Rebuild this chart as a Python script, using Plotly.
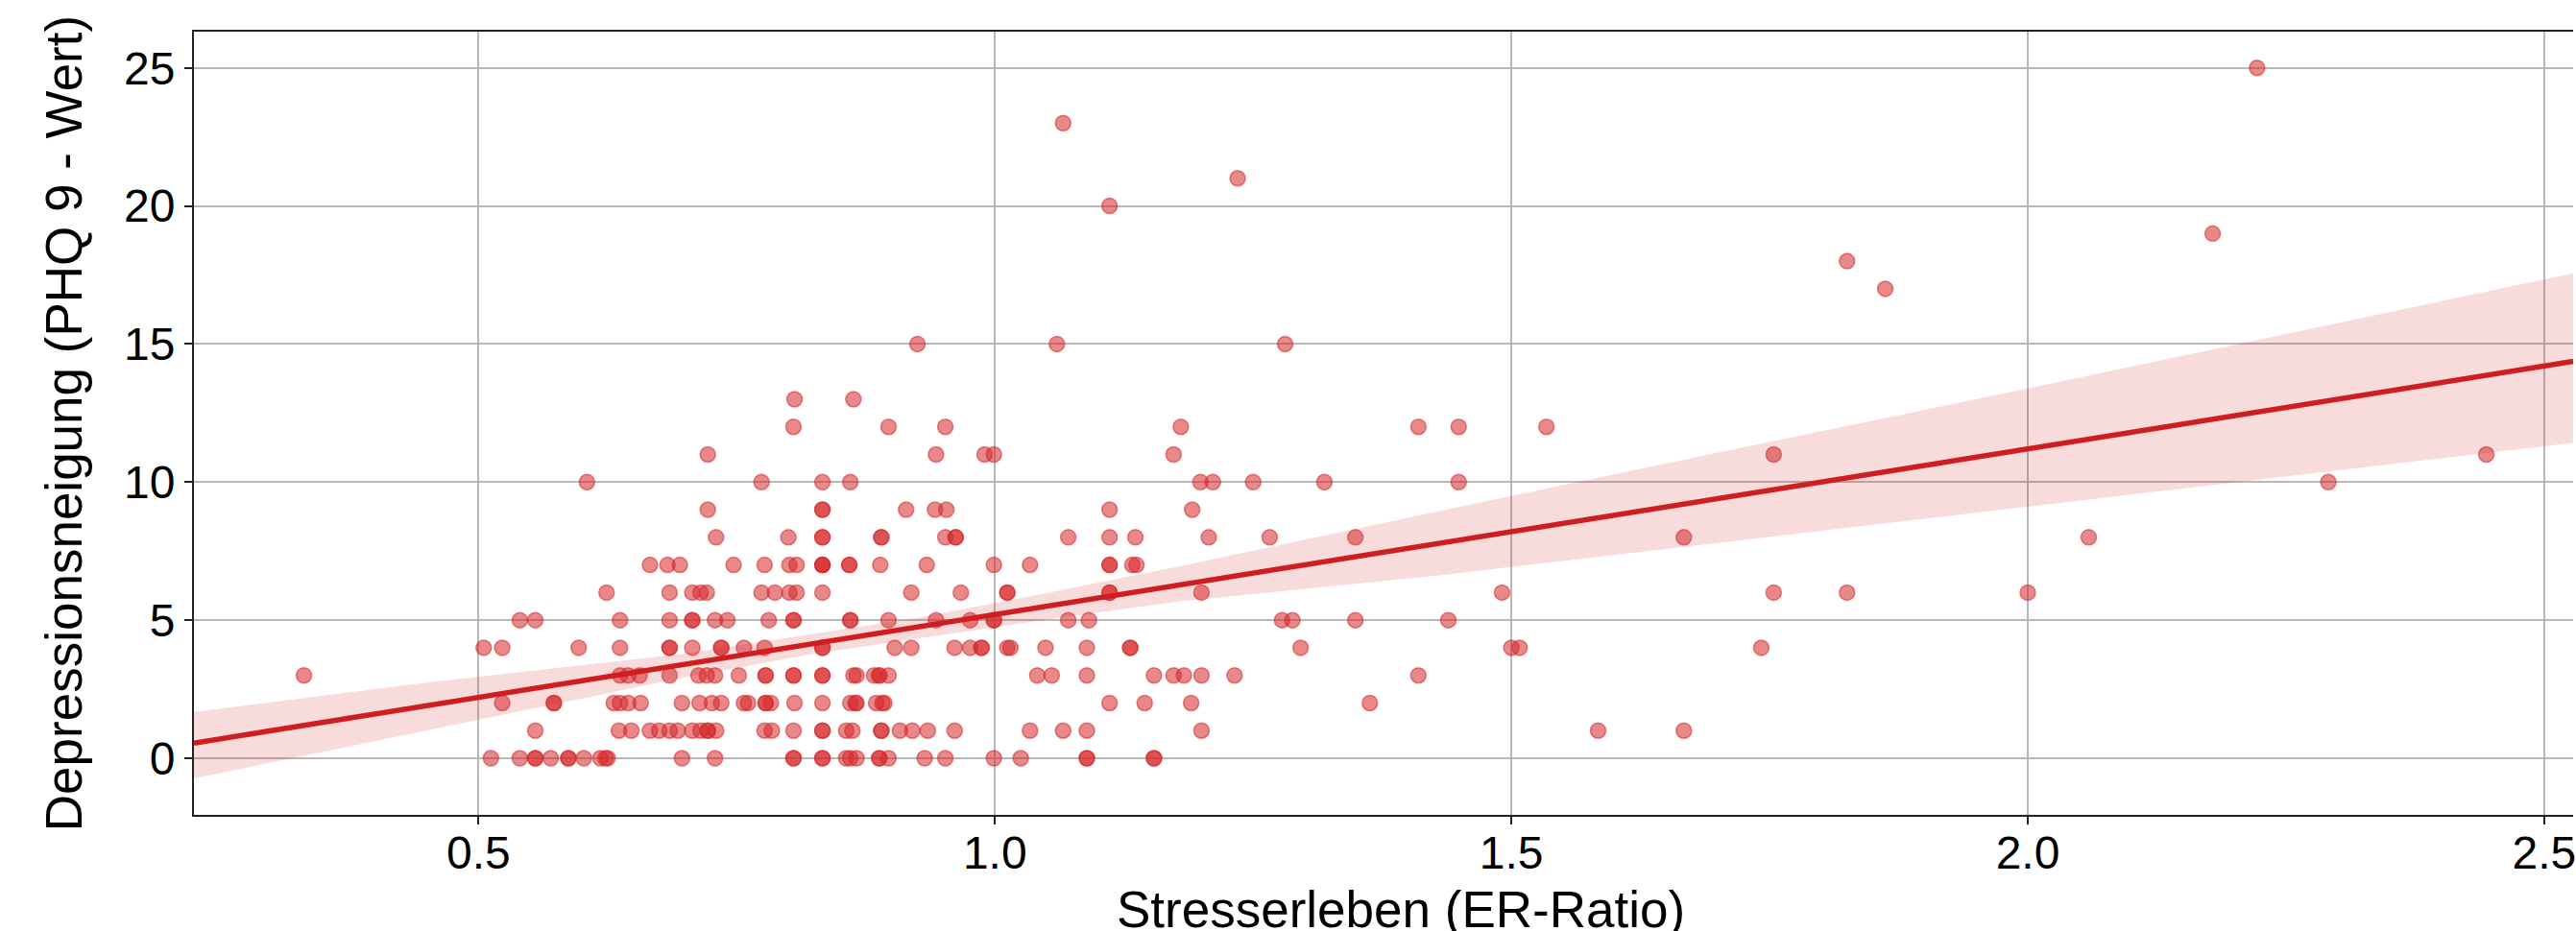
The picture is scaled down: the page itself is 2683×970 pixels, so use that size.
import plotly.graph_objects as go

# ER-Ratio values of the participants, grouped by their PHQ-9 score
er_phq0 = [0.512, 0.540, 0.555, 0.555, 0.570, 0.587, 0.587, 0.602, 0.618, 0.623, 0.625,
           0.697, 0.729, 0.805, 0.805, 0.833, 0.833, 0.856, 0.860, 0.866, 0.888, 0.888,
           0.897, 0.932, 0.952, 0.999, 1.025, 1.089, 1.089, 1.154, 1.154]
er_phq1 = [0.555, 0.636, 0.648, 0.666, 0.675, 0.685, 0.693, 0.707, 0.715, 0.722, 0.722,
           0.730, 0.777, 0.784, 0.805, 0.833, 0.833, 0.856, 0.862, 0.890, 0.890, 0.908,
           0.920, 0.935, 0.961, 1.034, 1.066, 1.089, 1.200, 1.584, 1.667]
er_phq2 = [0.523, 0.573, 0.573, 0.631, 0.637, 0.645, 0.657, 0.697, 0.714, 0.726, 0.735,
           0.757, 0.761, 0.778, 0.778, 0.783, 0.806, 0.833, 0.860, 0.865, 0.866, 0.885,
           0.891, 0.893, 1.111, 1.145, 1.190, 1.363]
er_phq3 = [0.331, 0.637, 0.645, 0.656, 0.685, 0.713, 0.721, 0.729, 0.752, 0.778, 0.778,
           0.805, 0.805, 0.833, 0.833, 0.863, 0.866, 0.883, 0.888, 0.888, 0.897, 1.041,
           1.055, 1.089, 1.154, 1.173, 1.183, 1.200, 1.232, 1.410]
er_phq4 = [0.505, 0.523, 0.597, 0.637, 0.685, 0.685, 0.707, 0.735, 0.735, 0.757, 0.777,
           0.833, 0.833, 0.903, 0.919, 0.961, 0.976, 0.987, 0.987, 1.012, 1.015, 1.049,
           1.089, 1.131, 1.131, 1.296, 1.500, 1.508, 1.742]
er_phq5 = [0.540, 0.555, 0.637, 0.685, 0.707, 0.707, 0.729, 0.741, 0.781, 0.805, 0.805,
           0.860, 0.860, 0.897, 0.943, 0.976, 0.999, 0.999, 1.071, 1.091, 1.278, 1.288,
           1.349, 1.439]
er_phq6 = [0.624, 0.685, 0.707, 0.715, 0.721, 0.774, 0.787, 0.801, 0.808, 0.833, 0.919,
           0.967, 1.012, 1.012, 1.111, 1.111, 1.200, 1.491, 1.754, 1.825, 2.000]
er_phq7 = [0.666, 0.683, 0.695, 0.747, 0.777, 0.801, 0.808, 0.833, 0.833, 0.833, 0.859,
           0.859, 0.889, 0.934, 0.999, 1.034, 1.111, 1.111, 1.133, 1.137]
er_phq8 = [0.730, 0.800, 0.833, 0.833, 0.890, 0.890, 0.952, 0.962, 0.962, 1.071, 1.111,
           1.136, 1.207, 1.266, 1.349, 1.667, 2.059]
er_phq9 = [0.722, 0.833, 0.833, 0.914, 0.942, 0.953, 1.111, 1.191]
er_phq10 = [0.605, 0.774, 0.833, 0.860, 1.199, 1.211, 1.250, 1.319, 1.449, 2.291]
er_phq11 = [0.722, 0.943, 0.990, 0.999, 1.173, 1.754, 2.444]
er_phq12 = [0.805, 0.897, 0.952, 1.180, 1.410, 1.449, 1.534]
er_phq13 = [0.806, 0.863]
er_phq15 = [0.925, 1.060, 1.281]
er_phq17 = [1.862]
er_phq18 = [1.825]
er_phq19 = [2.179]
er_phq20 = [1.111]
er_phq21 = [1.235]
er_phq23 = [1.066]
er_phq25 = [2.222]

phq_groups = [
    (0, er_phq0), (1, er_phq1), (2, er_phq2), (3, er_phq3), (4, er_phq4),
    (5, er_phq5), (6, er_phq6), (7, er_phq7), (8, er_phq8), (9, er_phq9),
    (10, er_phq10), (11, er_phq11), (12, er_phq12), (13, er_phq13), (15, er_phq15),
    (17, er_phq17), (18, er_phq18), (19, er_phq19), (20, er_phq20), (21, er_phq21),
    (23, er_phq23), (25, er_phq25),
]

# Regression line and its confidence band
fit_x = [0.2245, 2.528]
fit_y = [0.55, 14.37]
band_x = [0.2245, 0.4455, 0.696, 0.82, 0.928, 1.05, 1.179, 1.439, 1.708, 2.0, 2.528]
band_hi = [1.68, 2.72, 3.77, 4.49, 5.10, 5.98, 6.95, 9.02, 11.13, 13.39, 17.56]
band_lo = [-0.73, 0.98, 2.90, 3.75, 4.35, 5.02, 5.68, 6.66, 7.82, 9.10, 11.42]

x_ticks = [0.5, 1.0, 1.5, 2.0, 2.5]
y_ticks = [0, 5, 10, 15, 20, 25]

x_title = "Stresserleben (ER-Ratio)"
y_title = "Depressionsneigung (PHQ 9 - Wert)"

xs, ys = [], []
for score, values in phq_groups:
    for v in values:
        xs.append(v)
        ys.append(score)

FONT = "Liberation Sans, Arial, sans-serif"

fig = go.Figure()
fig.add_trace(go.Scatter(
    x=xs, y=ys, mode="markers",
    marker=dict(size=16, color="rgba(214,39,40,0.55)",
                line=dict(width=1.5, color="rgba(214,39,40,0.55)")),
    hoverinfo="x+y", showlegend=False,
))
fig.add_trace(go.Scatter(
    x=band_x + band_x[::-1], y=band_hi + band_lo[::-1],
    fill="toself", fillcolor="rgba(214,39,40,0.16)",
    line=dict(width=0), mode="lines", hoverinfo="skip", showlegend=False,
))
fig.add_trace(go.Scatter(
    x=fit_x, y=fit_y, mode="lines",
    line=dict(color="#d01d20", width=5.5), showlegend=False,
))

fig.update_layout(
    width=2683, height=970,
    margin=dict(l=202, r=0, t=33, b=121),
    paper_bgcolor="white", plot_bgcolor="white",
    font=dict(family=FONT, size=48, color="black"),
)
fig.update_xaxes(
    range=[0.2245, 2.528], tickvals=x_ticks, ticktext=[f"{v:.1f}" for v in x_ticks],
    showgrid=True, gridcolor="#b8b8b8", gridwidth=1.5,
    showline=True, linecolor="#222222", linewidth=2, mirror=True,
    ticks="outside", ticklen=8, tickwidth=1.5, tickcolor="#222222",
    ticklabelstandoff=-12, ticklabeloverflow="allow",
    zeroline=False, tickfont=dict(size=48, family=FONT, color="black"),
)
fig.update_yaxes(
    range=[-2.05, 26.31], tickvals=y_ticks, ticktext=[str(v) for v in y_ticks],
    showgrid=True, gridcolor="#b8b8b8", gridwidth=1.5,
    showline=True, linecolor="#222222", linewidth=2, mirror=False,
    ticks="outside", ticklen=8, tickwidth=1.5, tickcolor="#222222",
    zeroline=False, tickfont=dict(size=48, family=FONT, color="black"),
)
fig.add_annotation(
    text=x_title, xref="paper", yref="paper", x=0.5074, y=-0.082,
    xanchor="center", yanchor="top", showarrow=False,
    font=dict(size=53, family=FONT, color="black"),
)
fig.add_annotation(
    text=y_title, xref="paper", yref="paper", x=(66 - 202) / 2481, y=0.5,
    xanchor="center", yanchor="middle", textangle=-90, showarrow=False,
    font=dict(size=53, family=FONT, color="black"),
)

fig.write_html(
    "out.html",
    config={"displayModeBar": False},
    post_script="document.body.style.margin='0';document.body.style.overflow='hidden';",
)
